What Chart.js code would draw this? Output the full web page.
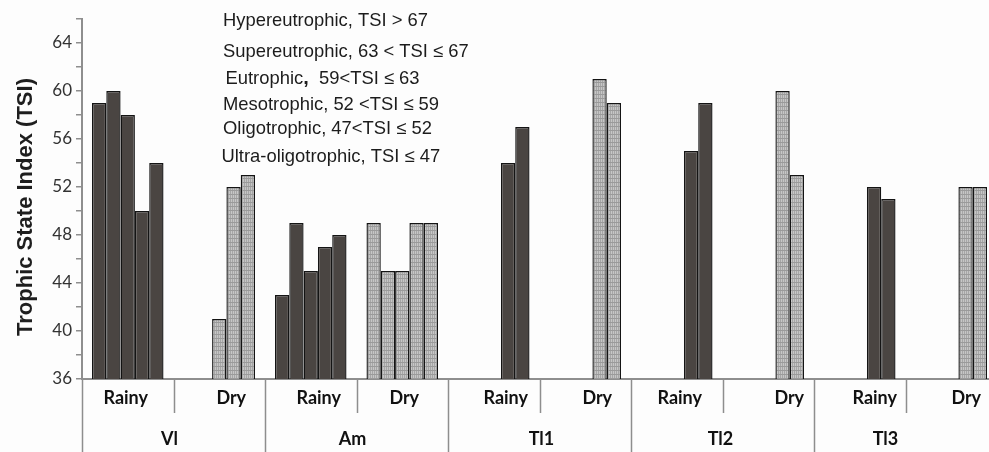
<!DOCTYPE html>
<html>
<head>
<meta charset="utf-8">
<script src="https://cdn.jsdelivr.net/npm/chart.js@4.4.1/dist/chart.umd.min.js"></script>
<style>
  html, body { margin: 0; padding: 0; background: #fdfdfd; overflow: hidden; }
  #wrap { width: 1000px; height: 452px; }
</style>
</head>
<body>
<div id="wrap"><canvas id="tsi" width="1000" height="452"></canvas></div>
<script>
// Sites and sampling seasons
const sites = ['Vl', 'Am', 'Tl1', 'Tl2', 'Tl3'];
const seasons = ['Rainy', 'Dry'];

// TSI values per sampling point (up to five points per site and season)
const vlRainy  = [59, 60, 58, 50, 54];
const vlDry    = [null, null, 41, 52, 53];
const amRainy  = [43, 49, 45, 47, 48];
const amDry    = [49, 45, 45, 49, 49];
const tl1Rainy = [null, null, null, 54, 57];
const tl1Dry   = [null, null, null, 61, 59];
const tl2Rainy = [null, null, null, 55, 59];
const tl2Dry   = [null, null, null, 60, 53];
const tl3Rainy = [null, null, null, 52, 51];
const tl3Dry   = [null, null, null, 52, 52];

// Y axis ticks
const yMin = 36, yMax = 66, yStep = 2;
const yLabelled = [36, 40, 44, 48, 52, 56, 60, 64];
const yTitle = 'Trophic State Index (TSI)';

// Trophic classes listed in the upper panel
const classLines = [
  'Hypereutrophic, TSI > 67',
  'Supereutrophic, 63 < TSI \u2264 67',
  'Eutrophic,  59<TSI \u2264 63',
  'Mesotrophic, 52 <TSI \u2264 59',
  'Oligotrophic, 47<TSI \u2264 52',
  'Ultra-oligotrophic, TSI \u2264 47'
];

// small horizontal nudges for the category captions (px)
const seasonNudge = [-2, 12, 8, 2, 12, 12, 3, 21, 15, 15];
const siteNudge = [-4, -4, 2, -2, -20];

const rows = [vlRainy, vlDry, amRainy, amDry, tl1Rainy, tl1Dry, tl2Rainy, tl2Dry, tl3Rainy, tl3Dry];
const categories = [];
sites.forEach(s => seasons.forEach(se => categories.push(s + ' ' + se)));

const canvas = document.getElementById('tsi');
const ctx2d = canvas.getContext('2d');

// fine dotted grey fill used for the dry-season bars
function dryPattern() {
  const c = document.createElement('canvas');
  c.width = 4; c.height = 4;
  const g = c.getContext('2d');
  g.fillStyle = '#a6a6a6'; g.fillRect(0, 0, 4, 4);
  g.fillStyle = '#c6c6c6'; g.fillRect(1, 0, 1, 4); g.fillRect(3, 0, 1, 4);
  g.fillStyle = '#9a9a9a'; g.fillRect(0, 2, 4, 1);
  return ctx2d.createPattern(c, 'repeat');
}
const dryFill = dryPattern();
const rainyFill = '#4a4542';
const axisGrey = '#8e8e8e';

const datasets = [0, 1, 2, 3, 4].map(i => ({
  label: 'Point ' + (i + 1),
  data: rows.map(r => r[i]),
  backgroundColor: c => (c.dataIndex % 2 === 0 ? rainyFill : dryFill),
  borderColor: '#141414',
  borderWidth: 1.4,
  borderSkipped: false,
  categoryPercentage: 0.782,
  barPercentage: 1.0
}));

const captions = {
  id: 'captions',
  afterDraw(chart) {
    const { ctx, chartArea, scales } = chart;
    const x = scales.x;
    const bottom = chartArea.bottom;
    const step = (chartArea.right - chartArea.left) / categories.length;
    ctx.save();
    // separators under the axis
    ctx.strokeStyle = axisGrey;
    ctx.lineWidth = 1.5;
    for (let k = 0; k <= categories.length; k++) {
      const px = Math.round(chartArea.left + k * step) + 0.5;
      const lower = (k % 2 === 0) ? chart.height : bottom + 34;
      ctx.beginPath();
      ctx.moveTo(px, bottom);
      ctx.lineTo(px, lower);
      ctx.stroke();
    }
    // season captions
    ctx.fillStyle = '#111';
    ctx.textAlign = 'center';
    ctx.textBaseline = 'alphabetic';
    ctx.font = 'bold 18px Lato';
    categories.forEach((c, i) => {
      ctx.fillText(seasons[i % 2], x.getPixelForValue(i) + seasonNudge[i], bottom + 25);
    });
    // site captions
    sites.forEach((s, j) => {
      const cx = (x.getPixelForValue(2 * j) + x.getPixelForValue(2 * j + 1)) / 2;
      ctx.fillText(s, cx + siteNudge[j], bottom + 66);
    });
    // y axis title
    ctx.save();
    ctx.translate(32, 207);
    ctx.rotate(-Math.PI / 2);
    ctx.font = 'bold 22px "Liberation Sans"';
    ctx.fillStyle = '#1e1e1e';
    ctx.textAlign = 'center';
    ctx.fillText(yTitle, 0, 0);
    ctx.restore();
    // trophic classes
    ctx.textAlign = 'left';
    ctx.fillStyle = '#1c1c1c';
    const baseY = [26, 56.5, 83.5, 109.5, 133.5, 161.5];
    const leftX = [223, 223, 225.5, 223, 223, 221.5];
    const f = '18.4px "Liberation Sans"';
    classLines.forEach((t, i) => {
      ctx.font = f;
      if (i === 2) {
        const head = 'Eutrophic';
        ctx.fillText(head, leftX[i], baseY[i]);
        let w = ctx.measureText(head).width;
        ctx.font = 'bold 20px "Liberation Sans"';
        ctx.fillText(',', leftX[i] + w, baseY[i]);
        w += ctx.measureText(',').width;
        ctx.font = f;
        ctx.fillText(t.slice(head.length + 1), leftX[i] + w, baseY[i]);
      } else {
        ctx.fillText(t, leftX[i], baseY[i]);
      }
    });
    ctx.restore();
  }
};

new Chart(canvas, {
  type: 'bar',
  data: { labels: categories, datasets },
  options: {
    responsive: false,
    animation: false,
    devicePixelRatio: 1,
    layout: { padding: { top: 19, right: 3, left: 0, bottom: 0 } },
    plugins: { legend: { display: false }, tooltip: { enabled: false } },
    scales: {
      x: {
        grid: { display: false },
        border: { display: true, color: axisGrey, width: 2 },
        ticks: { display: false },
        afterFit: s => { s.height = 73; }
      },
      y: {
        min: yMin,
        max: yMax,
        afterFit: s => { s.width = 82; },
        border: { display: true, color: axisGrey, width: 2 },
        grid: { drawOnChartArea: false, drawTicks: true, tickLength: 6, color: axisGrey, lineWidth: 1.5 },
        ticks: {
          stepSize: yStep,
          padding: 4,
          color: '#333',
          font: { family: 'Lato', size: 17 },
          callback: v => (yLabelled.includes(v) ? String(v) : '')
        }
      }
    }
  },
  plugins: [captions]
});
</script>
</body>
</html>
